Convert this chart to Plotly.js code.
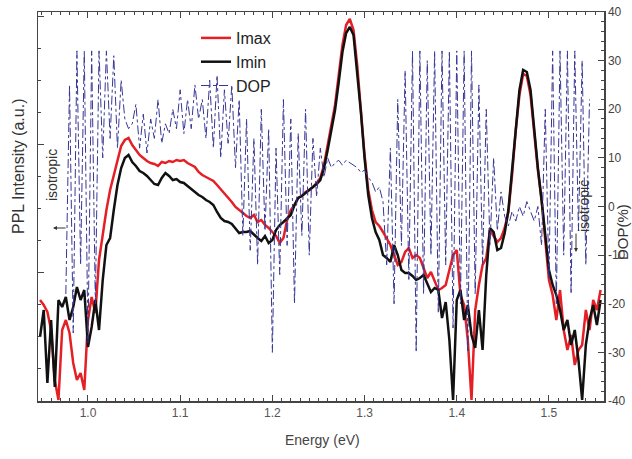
<!DOCTYPE html>
<html><head><meta charset="utf-8">
<script src="https://cdn.plot.ly/plotly-3.0.1.min.js"></script>
<style>html,body{margin:0;padding:0;background:#fff}#chart{width:632px;height:459px}</style>
</head><body><div id="chart"></div>
<script>
const energy = [0.948,0.952,0.956,0.960,0.964,0.968,0.972,0.976,0.980,0.984,0.988,0.992,0.996,
1.000,1.004,1.008,1.012,1.016,1.020,1.024,1.028,
1.032,1.036,1.040,1.044,1.048,1.052,1.056,1.060,
1.064,1.068,1.072,1.076,1.080,1.084,1.088,1.092,
1.096,1.100,1.104,1.108,1.112,1.116,1.120,1.124,
1.128,1.132,1.136,1.140,1.144,1.148,1.152,1.156,
1.160,1.164,1.168,1.172,1.176,1.180,1.184,1.188,
1.192,1.196,1.200,1.204,1.208,1.212,1.216,1.220,
1.224,1.228,1.232,1.236,1.240,1.244,1.248,1.252,
1.256,1.260,1.264,1.268,1.272,1.276,1.280,1.284,
1.288,1.292,1.296,1.300,1.304,1.308,1.312,1.316,
1.320,1.324,1.328,1.332,1.336,1.340,1.344,1.348,
1.352,1.356,1.360,1.364,1.368,1.372,1.376,1.380,
1.384,1.388,1.392,1.396,1.400,1.404,1.408,1.412,
1.416,1.420,1.424,1.428,1.432,1.436,1.440,1.444,
1.448,1.452,1.456,1.460,1.464,1.468,1.472,1.476,
1.480,1.484,1.488,1.492,1.496,1.500,1.504,1.508,
1.512,1.516,1.520,1.524,1.528,1.532,1.536,1.540,
1.544,1.548,1.552,1.556];

const imax = [101,96,89,71,21,1,71,81,68,38,21,28,11,
81,104,88,141,168,191,211,226,
243,255,261,263,256,251,246,243,
240,238,237,235,239,238,240,239,
241,240,241,238,236,234,229,226,
224,222,220,216,212,208,203,199,
194,191,188,185,183,186,179,181,
176,173,169,165,158,163,181,191,
196,203,205,209,211,214,218,223,
236,256,276,296,326,356,376,382,
371,336,291,246,211,191,179,175,
169,163,156,146,136,139,149,153,
143,146,143,133,123,129,119,111,
113,116,131,146,151,106,96,61,
1,91,116,136,143,171,165,159,
163,173,189,226,271,306,327,325,
306,266,231,201,161,121,106,81,
111,71,51,66,36,51,56,91,
71,101,91,111];

const imin = [64,91,18,81,14,101,94,104,81,94,114,101,111,
54,74,101,71,121,156,163,191,
216,233,243,246,239,235,230,228,
225,221,217,216,223,228,225,221,
222,219,218,215,212,209,206,204,
201,199,196,189,183,180,179,177,
172,168,169,169,170,166,163,160,
165,158,161,171,176,179,183,186,
196,203,205,208,211,214,217,221,
233,251,271,291,319,349,368,374,
366,331,289,243,206,183,169,161,
146,143,139,156,146,131,128,128,
125,121,123,126,118,109,113,111,
83,99,61,1,101,111,81,96,
66,53,91,51,126,173,169,151,
153,168,191,229,273,311,331,329,
311,271,233,201,166,131,116,106,
91,71,81,56,71,41,1,56,
81,96,76,101];

const dop = [null,null,null,null,null,null,null,
-18,25,-26,32,-12,32,-28,32,-20,32,
10,32,14,31,12,26,18,16,
17,21,12,19,11,18,14,22,
13,17,15,20,16,24,15,22,
16,25,18,22,14,26,12,27,
10,24,13,25,8,22,-6,18,
-9,14,-12,20,-5,16,-30,12,
-14,22,-8,18,-20,15,-6,20,
-10,14,2,12,6,10,8,9,
9.5,8.5,9.5,9,8.5,8,7,7.5,
6,5,3,4,1,-12,12,-20,
22,-8,28,-15,32,-30,32,-18,
30,-10,32,-22,32,-12,32,-25,
32,-20,32,-30,32,-18,25,-12,
20,-8,10,-5,3,-2,-4,-1,
-3,0,-2,1,-1,-3,0,-8,
20,-15,32,-20,32,-10,32,-18,
32,-5,30,-12,22,null,null,null];

const seriesNames = ['Imax','Imin','DOP'];
const xTickVals = [1.0,1.1,1.2,1.3,1.4,1.5];
const xTickText = ['1.0','1.1','1.2','1.3','1.4','1.5'];
const dopTickVals = [-40,-30,-20,-10,0,10,20,30,40];
const dopTickText = ['-40','-30','-20','-10','0','10','20','30','40'];

const FONT = '"Liberation Sans Narrow", "Arial Narrow", "Liberation Sans", Arial, sans-serif';
const AX = '#444';

const traces = [
  {x: energy, y: dop, name: seriesNames[2], yaxis: 'y2', type: 'scatter', mode: 'lines',
   line: {color: 'rgb(55,55,150)', width: 1, dash: 'dashdot'}, legendrank: 3, connectgaps: false},
  {x: energy, y: imax, name: seriesNames[0], type: 'scatter', mode: 'lines',
   line: {color: 'rgb(228,32,38)', width: 2.5}, legendrank: 1},
  {x: energy, y: imin, name: seriesNames[1], type: 'scatter', mode: 'lines',
   line: {color: '#111', width: 2.5}, legendrank: 2}
];

const P = (px) => (px - 38) / 566;
const Q = (py) => (401 - py) / 389;

const layout = {
  width: 632, height: 459,
  margin: {l: 38, r: 28, t: 12, b: 58, pad: 0},
  paper_bgcolor: '#fff', plot_bgcolor: '#fff',
  showlegend: true,
  legend: {x: P(196), y: Q(21), xanchor: 'left', yanchor: 'top', bgcolor: 'rgba(0,0,0,0)',
    font: {family: FONT, size: 16, color: '#222'}, tracegroupgap: 0, itemwidth: 30},
  xaxis: {range: [0.9458, 1.5597], tickvals: xTickVals, ticktext: xTickText,
    ticks: 'inside', ticklen: 6, tickwidth: 1, tickcolor: AX,
    showline: true, linecolor: AX, linewidth: 1.5, mirror: 'ticks',
    minor: {dtick: 0.01, tick0: 0, ticks: 'inside', ticklen: 3, tickcolor: AX},
    tickfont: {family: FONT, size: 12, color: '#555'}, showgrid: false, zeroline: false},
  yaxis: {range: [0, 389], showticklabels: false, ticks: 'inside', tick0: 1, dtick: 128,
    ticklen: 6, tickcolor: AX, showline: true, linecolor: AX, linewidth: 1.5,
    minor: {dtick: 32, tick0: 1, ticks: 'inside', ticklen: 3, tickcolor: AX},
    showgrid: false, zeroline: false},
  yaxis2: {overlaying: 'y', side: 'right', range: [-40, 40], tickvals: dopTickVals, ticktext: dopTickText,
    ticks: 'inside', ticklen: 6, tickcolor: AX, showline: true, linecolor: AX, linewidth: 1.5,
    minor: {dtick: 2, ticks: 'inside', ticklen: 3, tickcolor: AX},
    tickfont: {family: FONT, size: 12, color: '#444'}, showgrid: false, zeroline: false},
  annotations: [
    {text: 'Energy (eV)', xref: 'paper', yref: 'paper', x: P(322), y: Q(440), showarrow: false,
     font: {family: FONT, size: 14, color: '#444'}, xanchor: 'center', yanchor: 'middle'},
    {text: 'PPL Intensity (a.u.)', xref: 'paper', yref: 'paper', x: P(18), y: Q(167), showarrow: false,
     textangle: -90, font: {family: 'Liberation Sans, Arial, sans-serif', size: 16, color: '#333'}, xanchor: 'center', yanchor: 'middle'},
    {text: 'DOP(%)', xref: 'paper', yref: 'paper', x: P(622), y: Q(232), showarrow: false,
     textangle: -90, font: {family: 'Liberation Sans, Arial, sans-serif', size: 15, color: '#333'}, xanchor: 'center', yanchor: 'middle'},
    {text: 'isotropic', xref: 'paper', yref: 'paper', x: P(52), y: Q(175), showarrow: false,
     textangle: -90, font: {family: 'Liberation Sans, Arial, sans-serif', size: 14, color: '#333'}, xanchor: 'center', yanchor: 'middle'},
    {text: '', xref: 'paper', yref: 'paper', x: P(53), y: Q(228), ax: 14, ay: 0, showarrow: true,
     arrowhead: 2, arrowsize: 0.8, arrowwidth: 1, arrowcolor: '#333'},
    {text: 'isotropic', xref: 'paper', yref: 'paper', x: P(584), y: Q(206), showarrow: false,
     textangle: -90, font: {family: 'Liberation Sans, Arial, sans-serif', size: 14, color: '#333'}, xanchor: 'center', yanchor: 'middle'},
    {text: '', xref: 'paper', yref: 'paper', x: P(576), y: Q(252), ax: 0, ay: -20, showarrow: true,
     arrowhead: 2, arrowsize: 0.8, arrowwidth: 1, arrowcolor: '#333'}
  ]
};

Plotly.newPlot('chart', traces, layout, {displayModeBar: false, staticPlot: true});
</script>
</body></html>
